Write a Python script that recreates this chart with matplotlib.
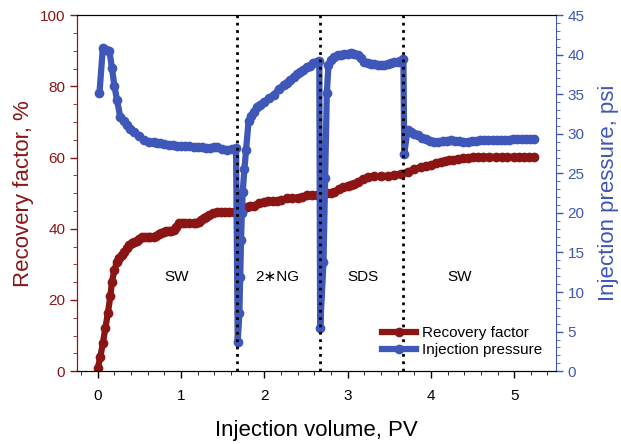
import numpy as np
import matplotlib.pyplot as plt

plt.rcParams['font.family'] = ['Liberation Sans', 'DejaVu Sans']

red = '#8b1515'
blue = '#3f57b8'

# recovery factor (%) vs injection volume (PV)
pv_rf = [0.0, 0.03, 0.06, 0.09, 0.12, 0.15, 0.17, 0.20, 0.23, 0.26, 0.29, 0.32,
         0.35, 0.38, 0.41, 0.44, 0.47, 0.50, 0.53, 0.57, 0.60, 0.63, 0.67, 0.70,
         0.73, 0.76, 0.79, 0.82, 0.85, 0.88, 0.91, 0.94, 0.97, 1.01, 1.05, 1.10,
         1.15, 1.18, 1.21, 1.24, 1.27, 1.30, 1.33, 1.38, 1.43, 1.48, 1.53, 1.58,
         1.63, 1.67, 1.71, 1.75, 1.79, 1.83, 1.87, 1.93, 1.99, 2.04, 2.10, 2.15,
         2.20, 2.27, 2.33, 2.40, 2.45, 2.51, 2.57, 2.63, 2.69, 2.75, 2.80, 2.84,
         2.90, 2.95, 3.00, 3.04, 3.08, 3.12, 3.18, 3.24, 3.32, 3.40, 3.48, 3.56,
         3.64, 3.72, 3.80, 3.88, 3.94, 4.00, 4.06, 4.12, 4.17, 4.22, 4.27, 4.32,
         4.38, 4.44, 4.50, 4.56, 4.63, 4.70, 4.78, 4.85, 4.92, 5.00, 5.06, 5.12,
         5.18, 5.24]
rf = [0.8, 4.0, 7.8, 12.0, 16.2, 21.0, 25.1, 28.5, 30.7, 31.8, 32.6, 33.6,
      34.5, 35.3, 35.9, 36.2, 36.5, 37.1, 37.7, 37.7, 37.7, 37.7, 37.7, 38.1,
      38.5, 38.8, 39.1, 39.3, 39.4, 39.5, 39.6, 40.5, 41.5, 41.5, 41.5, 41.5,
      41.5, 41.7, 42.0, 42.4, 42.9, 43.4, 43.8, 44.3, 44.7, 44.7, 44.7, 44.7,
      44.7, 45.1, 45.5, 45.9, 46.2, 46.4, 46.5, 47.1, 47.6, 47.7, 47.8, 47.9,
      48.0, 48.5, 48.6, 48.7, 49.0, 49.4, 49.4, 49.5, 49.7, 49.9, 50.1, 50.4,
      51.1, 51.8, 52.0, 52.2, 52.7, 53.2, 53.9, 54.6, 54.7, 54.8, 54.9, 55.1,
      55.5, 56.0, 56.7, 57.4, 57.7, 58.0, 58.4, 58.8, 59.0, 59.2, 59.4, 59.7,
      59.9, 60.0, 60.1, 60.2, 60.2, 60.2, 60.2, 60.2, 60.2, 60.2, 60.2, 60.2,
      60.2, 60.2]

# injection pressure (psi)
pv_p = [0.02, 0.06, 0.10, 0.14, 0.17, 0.20, 0.23, 0.27, 0.31, 0.35, 0.39, 0.43,
        0.49, 0.55, 0.61, 0.67, 0.71, 0.75, 0.80, 0.85, 0.90, 0.95, 1.00, 1.05,
        1.10, 1.15, 1.20, 1.25, 1.30, 1.35, 1.39, 1.43, 1.49, 1.55, 1.61, 1.66,
        1.68, 1.70, 1.71, 1.72, 1.73, 1.74, 1.76, 1.78, 1.81, 1.84, 1.87, 1.91,
        1.95, 1.99, 2.05, 2.11, 2.17, 2.23, 2.27, 2.31, 2.35, 2.39, 2.43, 2.47,
        2.51, 2.55, 2.59, 2.63, 2.66,
        2.67, 2.71, 2.73, 2.75, 2.77, 2.80, 2.84, 2.88, 2.92, 2.96, 3.00, 3.04,
        3.08, 3.12, 3.16, 3.20, 3.24, 3.28, 3.32, 3.36, 3.40, 3.44, 3.48, 3.52,
        3.56, 3.60, 3.63, 3.67,
        3.68, 3.72, 3.76, 3.80, 3.84, 3.89, 3.94, 3.99, 4.04, 4.09, 4.14, 4.19,
        4.24, 4.29, 4.34, 4.39, 4.44, 4.49, 4.54, 4.59, 4.64, 4.69, 4.74, 4.79,
        4.84, 4.89, 4.94, 4.99, 5.04, 5.09, 5.14, 5.19, 5.24]
pres = [35.2, 40.8, 40.6, 40.4, 38.3, 36.0, 34.3, 32.1, 31.6, 31.1, 30.6, 30.2,
        29.7, 29.2, 29.0, 28.9, 28.85, 28.8, 28.7, 28.6, 28.55, 28.5, 28.45, 28.4,
        28.4, 28.35, 28.3, 28.3, 28.2, 28.15, 28.3, 28.35, 28.1, 28.0, 28.1, 28.15,
        3.7, 7.3, 11.9, 16.6, 20.0, 22.7, 25.5, 27.9, 31.6, 32.3, 32.8, 33.4,
        33.7, 34.0, 34.5, 34.9, 35.6, 36.2, 36.4, 36.8, 37.2, 37.5, 37.8, 38.1,
        38.4, 38.6, 38.9, 39.1, 39.2,
        5.4, 13.8, 24.4, 35.1, 38.7, 39.3, 39.7, 39.9, 40.0, 40.1, 40.1, 40.2,
        40.1, 39.9, 39.6, 39.1, 38.9, 38.8, 38.8, 38.7, 38.7, 38.7, 38.8, 38.9,
        39.1, 39.1, 39.2, 39.4,
        27.5, 30.5, 30.2, 30.0, 29.8, 29.5, 29.3, 29.1, 29.0, 29.0, 29.1, 29.1,
        29.2, 29.1, 29.1, 29.0, 29.0, 29.1, 29.1, 29.2, 29.2, 29.2, 29.2, 29.2,
        29.2, 29.2, 29.2, 29.3, 29.4, 29.4, 29.4, 29.4, 29.3]

slug_bounds = [1.67, 2.67, 3.67]
slug_names = ['SW', '2∗NG', 'SDS', 'SW']
slug_pos = [0.95, 2.15, 3.18, 4.35]

fig = plt.figure(figsize=(6.21, 4.44), dpi=100)
ax = fig.add_axes([0.124, 0.164, 0.771, 0.802])
ax2 = ax.twinx()

l1, = ax.plot(pv_rf, rf, '-o', color=red, lw=4.5, ms=6, label='Recovery factor')
l2, = ax2.plot(pv_p, pres, '-o', color=blue, lw=4.5, ms=6, label='Injection pressure')

for b in slug_bounds:
    ax2.axvline(b, color='black', ls=':', lw=2, zorder=5)
for name, xp in zip(slug_names, slug_pos):
    ax.text(xp, 26.5, name, ha='center', va='center', fontsize=11)

ax.set_xlim(-0.25, 5.5)
ax.set_ylim(0, 100)
ax2.set_ylim(0, 45)
ax.set_xticks([0, 1, 2, 3, 4, 5])
ax.set_xticks(np.arange(-0.2, 5.5, 0.2), minor=True)
ax.set_yticks([0, 20, 40, 60, 80, 100])
ax.set_yticks(np.arange(0, 101, 5), minor=True)
ax2.set_yticks(np.arange(0, 46, 5))
ax2.set_yticks(np.arange(0, 46, 1), minor=True)

ax.tick_params(axis='x', labelsize=11, direction='out', length=5, width=1, pad=8)
ax.tick_params(axis='x', which='minor', length=3)
ax.tick_params(axis='y', colors=red, labelsize=11, length=5, width=1)
ax.tick_params(axis='y', which='minor', colors=red, length=3)
ax2.tick_params(axis='y', colors=blue, labelsize=11, length=5, width=1)
ax2.tick_params(axis='y', which='minor', colors=blue, length=3)
ax.spines['left'].set_color(red)
ax2.spines['left'].set_color(red)
ax2.spines['right'].set_color(blue)
ax.spines['right'].set_visible(False)

ax.set_xlabel('Injection volume, PV', fontsize=16, labelpad=12)
ax.set_ylabel('Recovery factor, %', fontsize=16, color=red, labelpad=4)
ax2.set_ylabel('Injection pressure, psi', fontsize=16, color=blue, labelpad=10)

ax2.legend([l1, l2], ['Recovery factor', 'Injection pressure'], loc='lower right',
           frameon=False, fontsize=11, numpoints=1, handlelength=2.2,
           labelspacing=0.2, handletextpad=0.4, borderaxespad=0.5,
           bbox_to_anchor=(1.0, 0.0))

fig.savefig('out.png', dpi=100)
